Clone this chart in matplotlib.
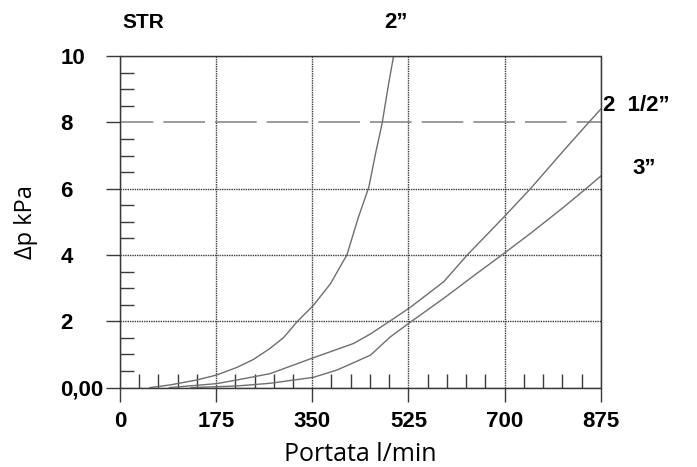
import matplotlib.pyplot as plt
from matplotlib.ticker import MultipleLocator

# curve readings (Portata l/min, dp kPa)
q_2 = [55, 91, 140, 176, 213, 243, 273, 298, 322, 352, 383, 413, 434, 453, 465, 477, 489, 498]
dp_2 = [0.0, 0.08, 0.23, 0.38, 0.61, 0.85, 1.18, 1.51, 1.98, 2.48, 3.13, 4.0, 5.14, 6.05, 7.05, 7.96, 9.17, 10.0]

q_25 = [90, 176, 213, 273, 352, 425, 456, 498, 529, 589, 632, 699, 747, 808, 851, 875]
dp_25 = [0.0, 0.12, 0.23, 0.42, 0.9, 1.33, 1.62, 2.08, 2.43, 3.19, 4.0, 5.15, 6.0, 7.16, 7.96, 8.4]

q_3 = [130, 213, 273, 352, 395, 425, 456, 492, 529, 589, 650, 699, 747, 808, 848, 875]
dp_3 = [0.0, 0.05, 0.13, 0.31, 0.53, 0.75, 0.98, 1.53, 1.98, 2.69, 3.45, 4.05, 4.65, 5.45, 6.0, 6.38]

xticks = [0, 175, 350, 525, 700, 875]
yticks = [0, 2, 4, 6, 8, 10]
ytick_labels = ["0,00", "2", "4", "6", "8", "10"]
limit_dp = 8

fig = plt.figure(figsize=(6.97, 4.67), dpi=100)
ax = fig.add_axes([0.172, 0.170, 0.690, 0.710])

grid_col = "#3a3a3a"
dots = (0, (1, 0.7))
ax.grid(True, which="major", color=grid_col, linestyle=dots, linewidth=1)
for s in ax.spines.values():
    s.set_color(grid_col)
    s.set_linestyle(dots)
    s.set_linewidth(1)
# the 8 kPa line is drawn dashed instead of a grid line
ax.yaxis.get_gridlines()[yticks.index(limit_dp)].set_visible(False)
ax.axhline(limit_dp, color="#8a8a8a", linestyle=(5, (25, 6)), linewidth=1.2)

curve_col = "#6e6e6e"
ax.plot(q_2, dp_2, color=curve_col, lw=1)
ax.plot(q_25, dp_25, color=curve_col, lw=1)
ax.plot(q_3, dp_3, color=curve_col, lw=1)

ax.set_xlim(0, 875)
ax.set_ylim(0, 10)
ax.set_xticks(xticks)
ax.set_yticks(yticks)
ax.set_yticklabels(ytick_labels)
ax.xaxis.set_minor_locator(MultipleLocator(35))
ax.yaxis.set_minor_locator(MultipleLocator(0.5))
ax.tick_params(which="major", direction="out", length=10, color=grid_col, width=1)
ax.tick_params(which="minor", direction="in", length=10, color=grid_col, width=1)
ax.tick_params(axis="x", which="minor", top=False)
ax.tick_params(axis="y", which="minor", right=False)
for lab in ax.get_xticklabels() + ax.get_yticklabels():
    lab.set_fontweight("bold")
    lab.set_fontsize(16)
    lab.set_family("Liberation Sans")
for lab in ax.get_yticklabels():
    lab.set_ha("left")
ax.tick_params(axis="x", pad=7)
ax.tick_params(axis="y", pad=33)

ax.set_xlabel("Portata l/min", fontsize=18, family="Open Sans")
ax.set_ylabel("Δp kPa", fontsize=17, family="Open Sans")
ax.xaxis.set_label_coords(0.5, -0.163)
ax.yaxis.set_label_coords(-0.170, 0.5)

lbl = dict(fontweight="bold", family="Liberation Sans", va="center")
fig.text(0.205, 0.951, "STR", fontsize=15, ha="center", **lbl)
fig.text(0.568, 0.951, "2”", fontsize=16, ha="center", **lbl)
fig.text(0.865, 0.775, "2  1/2”", fontsize=16, ha="left", **lbl)
fig.text(0.908, 0.640, "3”", fontsize=16, ha="left", **lbl)

fig.savefig("out.png", dpi=100)
